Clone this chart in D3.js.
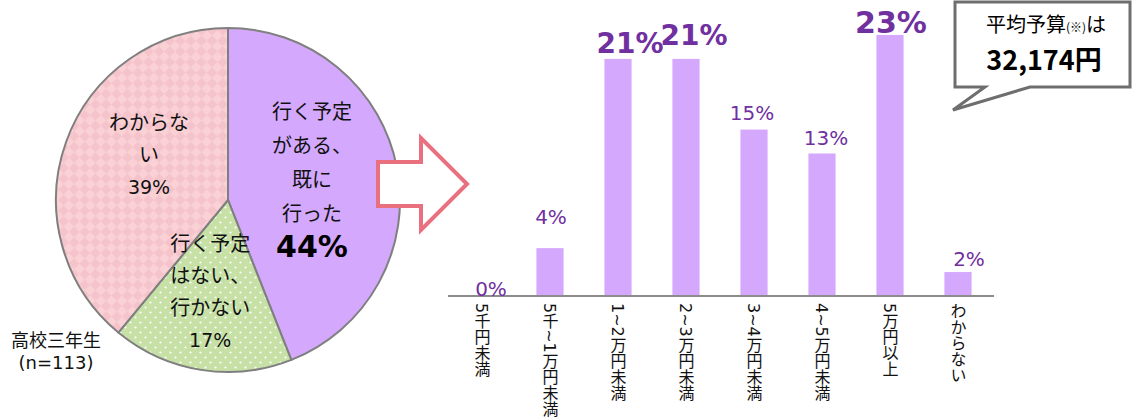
<!DOCTYPE html>
<html lang="ja">

<head>
    <meta charset="UTF-8">
    <title>高校三年生 予算</title>
    <script src="https://unpkg.com/d3@7.8.0/dist/d3.min.js"></script>
    <style>
        body {
            margin: 0px;
            background: #ffffff;
        }
    </style>
</head>

<body>
    <script>
        // pie data
        const pieKeys = ['yes', 'no', 'unknown'];
        const pieValues = [44, 17, 39];
        const pieLines = [
            ['行く予定', 'がある、', '既に', '行った'],
            ['行く予定', 'はない、', '行かない'],
            ['わからな', 'い']
        ];
        const pieLabels = ['44%', '17%', '39%'];
        const sampleNote = ['高校三年生', '(n=113)'];

        // bar data
        const categories = ['5千円未満', '5千~1万円未満', '1~2万円未満', '2~3万円未満',
            '3~4万円未満', '4~5万円未満', '5万円以上', 'わからない'];
        const barValues = [0, 4.2, 20.8, 20.8, 14.6, 12.5, 22.9, 2.1];
        const barLabels = ['0%', '4%', '21%', '21%', '15%', '13%', '23%', '2%'];

        const calloutTitle = ['平均予算', '(※)', 'は'];
        const calloutValue = '32,174円';

        const theme = {
            font: "'DejaVu Sans', 'Noto Sans CJK JP', sans-serif",
            jpFont: "'Noto Sans CJK JP', sans-serif",
            purple: '#D4A9FD',
            green: '#C6E0A6',
            pink: '#F5C3CB',
            pinkLight: '#FAD2D5',
            border: '#7F7F7F',
            labelPurple: '#7030A0',
            arrow: '#E8707F'
        };

        // per-label tweaks (size, weight, nudge) for the bar value labels
        const barLabelStyle = [
            { size: 20, bold: false, dx: 9, gap: 0 },
            { size: 20, bold: false, dx: 1, gap: 24 },
            { size: 28, bold: true, dx: 12, gap: 6 },
            { size: 28, bold: true, dx: 8, gap: 14 },
            { size: 20, bold: false, dx: -2, gap: 10 },
            { size: 20, bold: false, dx: 4, gap: 9 },
            { size: 30, bold: true, dx: 1, gap: 2 },
            { size: 20, bold: false, dx: 11, gap: 6 }
        ];

        const width = 1138, height = 419;
        const svg = d3.select('body').append('svg')
            .attr('width', width)
            .attr('height', height);

        // patterns
        const defs = svg.append('defs');
        const pinkPat = defs.append('pattern')
            .attr('id', 'pinkPat')
            .attr('patternUnits', 'userSpaceOnUse')
            .attr('width', 15).attr('height', 15)
            .attr('patternTransform', 'rotate(45)');
        pinkPat.append('rect').attr('width', 15).attr('height', 15).attr('fill', theme.pink);
        pinkPat.append('rect').attr('width', 7.5).attr('height', 7.5).attr('fill', theme.pinkLight);
        pinkPat.append('rect').attr('x', 7.5).attr('y', 7.5).attr('width', 7.5).attr('height', 7.5).attr('fill', theme.pinkLight);

        const greenPat = defs.append('pattern')
            .attr('id', 'greenPat')
            .attr('patternUnits', 'userSpaceOnUse')
            .attr('width', 10).attr('height', 10);
        greenPat.append('rect').attr('width', 10).attr('height', 10).attr('fill', theme.green);
        greenPat.append('circle').attr('cx', 2.5).attr('cy', 2.5).attr('r', 1.1).attr('fill', '#ffffff');
        greenPat.append('circle').attr('cx', 7.5).attr('cy', 7.5).attr('r', 1.1).attr('fill', '#ffffff');

        const fills = { yes: theme.purple, no: 'url(#greenPat)', unknown: 'url(#pinkPat)' };

        // ---------- Pie ----------
        const cx = 228, cy = 200, radius = 172;
        const pieG = svg.append('g').attr('transform', `translate(${cx},${cy})`);
        const pie = d3.pie().sort(null).value(d => d)(pieValues);
        const arc = d3.arc().innerRadius(0).outerRadius(radius);
        const labelArc = d3.arc().innerRadius(radius * 0.55).outerRadius(radius * 0.55);

        pieG.selectAll('path.slice')
            .data(pie)
            .enter().append('path')
            .attr('class', 'slice')
            .attr('d', arc)
            .attr('fill', (d, i) => fills[pieKeys[i]])
            .attr('stroke', theme.border)
            .attr('stroke-width', 2);

        const pieLabelNudge = [{ dx: -9, dy: 5, lh: 34 }, { dx: -3, dy: 6, lh: 32 }, { dx: 10, dy: -6, lh: 32 }];

        pie.forEach((d, i) => {
            const [lx, ly] = labelArc.centroid(d);
            const nudge = pieLabelNudge[i];
            const lines = pieLines[i];
            const total = lines.length + 1;
            const top = ly + nudge.dy - (total - 1) * nudge.lh / 2;
            const t = pieG.append('text')
                .attr('text-anchor', 'middle')
                .style('font-family', theme.font)
                .attr('fill', '#111');
            lines.forEach((line, j) => {
                t.append('tspan')
                    .attr('x', lx + nudge.dx)
                    .attr('y', top + j * nudge.lh)
                    .style('font-size', '20px')
                    .text(line);
            });
            const big = i === 0;
            t.append('tspan')
                .attr('x', lx + nudge.dx)
                .attr('y', top + lines.length * nudge.lh + (big ? 2 : 0))
                .style('font-size', big ? '30px' : '19px')
                .style('font-weight', big ? 'bold' : 'normal')
                .attr('fill', big ? '#000' : '#111')
                .text(pieLabels[i]);
        });

        svg.append('text')
            .attr('text-anchor', 'middle')
            .style('font-family', theme.font)
            .style('font-size', '18px')
            .attr('fill', '#111')
            .selectAll('tspan')
            .data(sampleNote)
            .enter().append('tspan')
            .attr('x', 56)
            .attr('y', (d, i) => 347 + i * 22)
            .text(d => d);

        // ---------- Arrow ----------
        const arrowPts = [[378, 162], [421, 162], [421, 138], [467, 184], [421, 230], [421, 206], [378, 206]];
        svg.append('polygon')
            .attr('points', arrowPts.map(p => p.join(',')).join(' '))
            .attr('fill', '#ffffff')
            .attr('stroke', theme.arrow)
            .attr('stroke-width', 4);

        // ---------- Bars ----------
        const baseY = 296;
        const xScale = d3.scaleBand()
            .domain(categories)
            .range([448, 992])
            .paddingInner(0.6)
            .paddingOuter(0.3);
        const yScale = d3.scaleLinear()
            .domain([0, 25])
            .range([baseY, baseY - 25 * 11.4]);

        svg.append('g').selectAll('rect')
            .data(barValues)
            .enter().append('rect')
            .attr('x', (d, i) => xScale(categories[i]))
            .attr('y', d => yScale(d))
            .attr('width', xScale.bandwidth())
            .attr('height', d => baseY - yScale(d))
            .attr('fill', theme.purple);

        svg.append('line')
            .attr('x1', 448).attr('x2', 994)
            .attr('y1', baseY).attr('y2', baseY)
            .attr('stroke', '#8C8C8C')
            .attr('stroke-width', 2);

        svg.append('g').selectAll('text')
            .data(barValues)
            .enter().append('text')
            .attr('text-anchor', 'middle')
            .attr('x', (d, i) => xScale(categories[i]) + xScale.bandwidth() / 2 + barLabelStyle[i].dx)
            .attr('y', (d, i) => yScale(d) - barLabelStyle[i].gap)
            .style('font-family', theme.font)
            .style('font-size', (d, i) => barLabelStyle[i].size + 'px')
            .style('font-weight', (d, i) => barLabelStyle[i].bold ? 'bold' : 'normal')
            .attr('fill', theme.labelPurple)
            .text((d, i) => barLabels[i]);

        // vertical category labels
        svg.append('g').selectAll('text')
            .data(categories)
            .enter().append('text')
            .attr('x', d => xScale(d) + xScale.bandwidth() / 2 - 1)
            .attr('y', 303)
            .style('writing-mode', 'vertical-rl')
            .style('font-family', theme.font)
            .style('font-size', '16px')
            .attr('fill', '#111')
            .text(d => d);

        // ---------- Callout ----------
        const co = { l: 955, r: 1130, t: 2, b: 87, tailA: 985, tailB: 1030, tipX: 953, tipY: 110 };
        svg.append('path')
            .attr('d', `M${co.l},${co.t} H${co.r} V${co.b} H${co.tailB} L${co.tipX},${co.tipY} L${co.tailA},${co.b} H${co.l} Z`)
            .attr('fill', '#ffffff')
            .attr('stroke', '#6E6E6E')
            .attr('stroke-width', 3)
            .attr('stroke-linejoin', 'miter');

        const ct = svg.append('text')
            .attr('x', 1046).attr('y', 32)
            .attr('text-anchor', 'middle')
            .style('font-family', theme.jpFont)
            .attr('fill', '#000');
        ct.selectAll('tspan')
            .data(calloutTitle)
            .enter().append('tspan')
            .style('font-size', (d, i) => i === 1 ? '12px' : '20px')
            .text(d => d);

        svg.append('text')
            .attr('x', 1044).attr('y', 70)
            .attr('text-anchor', 'middle')
            .style('font-family', theme.jpFont)
            .style('font-size', '27px')
            .style('font-weight', 'bold')
            .attr('fill', '#000')
            .text(calloutValue);
    </script>
</body>

</html>
